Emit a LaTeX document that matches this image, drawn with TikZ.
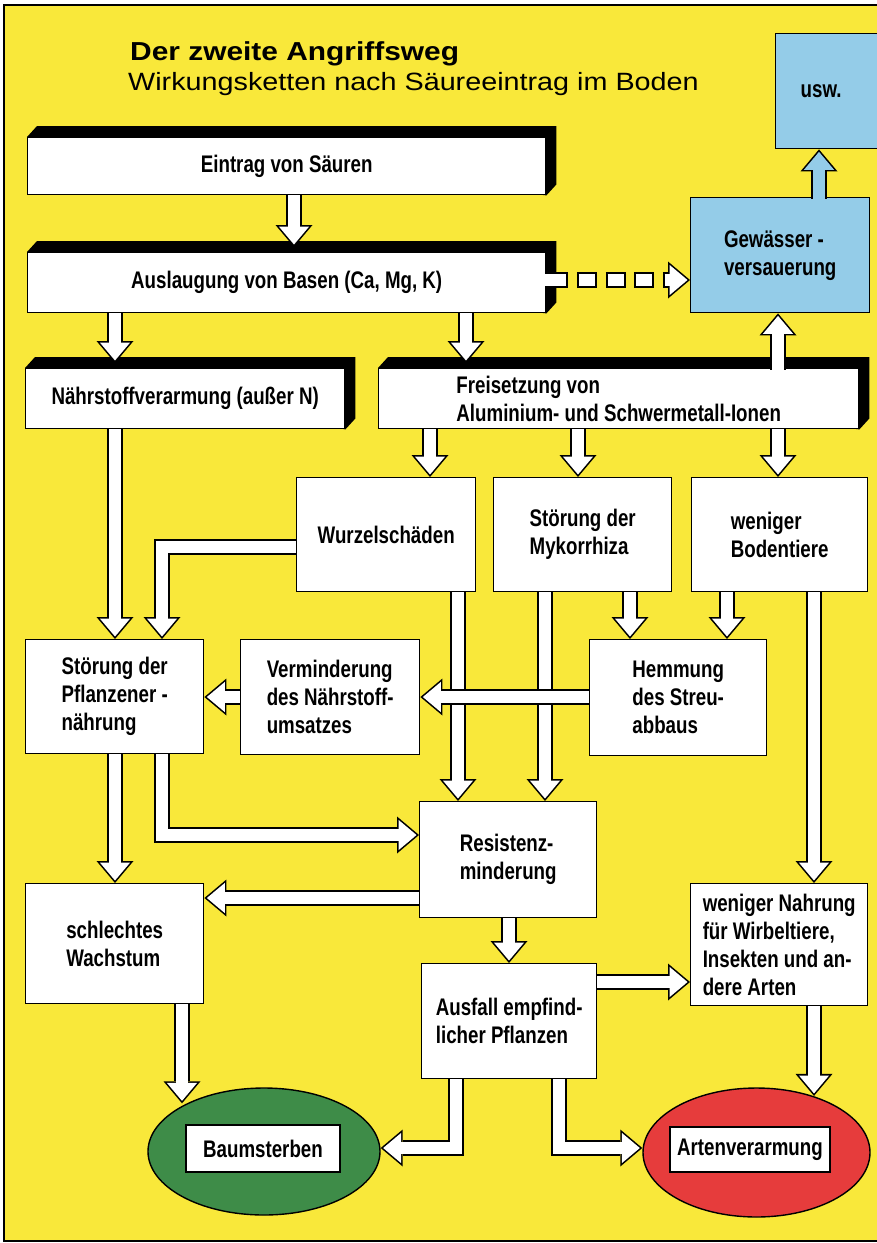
\documentclass[tikz,border=0pt]{standalone}
\usepackage{fontspec}
\newfontfamily\headfont{Liberation Sans}[FakeStretch=1.15]
\newfontfamily\boxfont{Liberation Sans}[FakeStretch=0.78]
\usetikzlibrary{arrows.meta,calc,shapes.geometric}
\pgfdeclarelayer{background}
\pgfsetlayers{background,main}
\definecolor{bgyellow}{RGB}{249,232,58}
\definecolor{skyb}{RGB}{148,204,232}
\definecolor{treegreen}{RGB}{62,140,72}
\definecolor{specred}{RGB}{230,60,60}
\begin{document}
\begin{tikzpicture}[x=1pt, y=-1pt,
    box/.style={draw, line width=1.4pt, fill=white, anchor=north west, inner sep=0pt, align=left,
      font=\boxfont\bfseries\fontsize{24}{28}\selectfont},
    tag/.style={box, anchor=center},
    blob/.style={ellipse, draw, line width=1.4pt, inner sep=0pt},
    fat/.style={line width=16pt, draw=black, -{Triangle[length=22pt, width=37pt, line width=0pt]},
      postaction={draw=#1, line width=12.8pt, shorten >=2.49pt,
        -{Triangle[length=17.9pt, width=30.1pt, line width=0pt]}}},
    fat/.default=white,
    % the dashed one starts 10pt inside its box, the first gap hides that part
    dashfat/.style={line width=16pt, draw=black, -{Triangle[length=22pt, width=37pt, line width=0pt]},
      dash pattern=on 0pt off 10pt on 23pt off 9pt on 20pt off 9pt on 20pt off 8pt on 20pt off 9pt on 80pt off 1pt,
      postaction={draw=white, line width=12.8pt, shorten >=2.49pt,
        dash pattern=on 0pt off 8.5pt on 22.9pt off 12.2pt on 16.8pt off 12.2pt on 16.8pt off 11.2pt on 16.8pt off 12.2pt on 80pt off 1pt,
        -{Triangle[length=17.9pt, width=30.1pt, line width=0pt]}}}]
  \useasboundingbox (0,0) rectangle (877,1243);
  % columns and rows the connectors run along
  \coordinate (cE) at (294,0);
  \coordinate (cA1) at (115,0);
  \coordinate (cA2) at (466,0);
  \coordinate (cF1) at (430,0);
  \coordinate (cF2) at (578,0);
  \coordinate (cF3) at (778,0);
  \coordinate (cW) at (162,0);
  \coordinate (cWR) at (458,0);
  \coordinate (cMR) at (545,0);
  \coordinate (cMH) at (630,0);
  \coordinate (cBH) at (727,0);
  \coordinate (cBN) at (814,0);
  \coordinate (cRA) at (509,0);
  \coordinate (cWB) at (182,0);
  \coordinate (cAB) at (456,0);
  \coordinate (cAA) at (559,0);
  \coordinate (cG) at (819,0);
  \coordinate (rD) at (0,280);
  \coordinate (rWP) at (0,547);
  \coordinate (rH) at (0,697);
  \coordinate (rPR) at (0,835);
  \coordinate (rRW) at (0,898);
  \coordinate (rAN) at (0,982);
  \coordinate (rAE) at (0,1148);

  \node[anchor=base west, inner sep=0pt, font=\headfont\bfseries\fontsize{26}{30}\selectfont] (title) at (130,60) {Der zweite Angriffsweg};
  \node[anchor=base west, inner sep=0pt, font=\headfont\fontsize{25}{30}\selectfont] (subtitle) at (128,90) {Wirkungsketten nach Säureeintrag im Boden};

  \node[box, minimum width=518pt, minimum height=57pt] (eintrag) at (27,137) {Eintrag von Säuren};
  \node[box, minimum width=518pt, minimum height=60pt] (auslaug) at (27,252) {Auslaugung von Basen (Ca, Mg, K)};
  \node[box, minimum width=319pt, minimum height=60pt] (naehr) at (25,368) {Nährstoffverarmung (außer N)};
  \node[box, minimum width=480pt, minimum height=60pt] (frei) at (378,368) {Freisetzung von\\Aluminium- und Schwermetall-Ionen};
  \node[box, minimum width=179pt, minimum height=114pt] (wurzel) at (296,477) {Wurzelschäden};
  \node[box, minimum width=178pt, minimum height=114pt] (mykor) at (493,477) {Störung der\\Mykorrhiza};
  \node[box, minimum width=176pt, minimum height=114pt] (boden) at (691,477) {weniger\\Bodentiere};
  \node[box, minimum width=178pt, minimum height=114pt] (pflanz) at (25,639) {Störung der\\Pflanzener -\\nährung};
  \node[box, minimum width=179pt, minimum height=115pt] (vermind) at (240,639) {Verminderung\\des Nährstoff-\\umsatzes};
  \node[box, minimum width=177pt, minimum height=116pt] (hemm) at (589,639) {Hemmung\\des Streu-\\abbaus};
  \node[box, minimum width=177pt, minimum height=116pt] (resist) at (419,801) {Resistenz-\\minderung};
  \node[box, minimum width=178pt, minimum height=120pt] (wachs) at (25,883) {schlechtes\\Wachstum};
  \node[box, minimum width=175pt, minimum height=115pt] (ausfall) at (421,963) {Ausfall empfind-\\licher Pflanzen};
  \node[box, minimum width=177pt, minimum height=122pt] (nahrung) at (690,883) {weniger Nahrung\\für Wirbeltiere,\\Insekten und an-\\dere Arten};
  \node[box, fill=skyb, minimum width=179pt, minimum height=115pt] (gewaess) at (690,197) {Gewässer -\\versauerung};
  \node[box, fill=skyb, minimum width=130pt, minimum height=115pt, text width=80pt] (usw) at (775,33) {usw.};
  \node[blob, fill=treegreen, minimum width=232pt, minimum height=127pt] (baum) at (264,1151.5) {};
  \node[tag, minimum width=154pt, minimum height=47pt] (baumtxt) at ($(baum)+(-1,-3)$) {Baumsterben};
  \node[blob, fill=specred, minimum width=227pt, minimum height=129pt] (arten) at (756.5,1152.5) {};
  \node[tag, minimum width=160pt, minimum height=45pt] (artentxt) at ($(arten)+(-6.5,-3)$) {Artenverarmung};

  \begin{pgfonlayer}{background}
    \fill[white] (0,0) rectangle (877,1243);
    \draw[fill=bgyellow, line width=1.2pt] (4,5) rectangle (900,1241);
    % black edges of the raised boxes
    \foreach \n in {eintrag,auslaug,naehr,frei}
      \fill (\n.north west) -- ([shift={(10,-11)}]\n.north west) -- ([shift={(10,-11)}]\n.north east)
        -- ([shift={(10,-11)}]\n.south east) -- (\n.south east) -- cycle;
    \draw[fat] (eintrag.south -| cE) -- ($(auslaug.north -| cE)+(0,-5)$);
    \draw[fat] (auslaug.south -| cA1) -- ($(naehr.north -| cA1)+(0,-5)$);
    \draw[fat] (auslaug.south -| cA2) -- ($(frei.north -| cA2)+(0,-5)$);
    \draw[fat] (frei.south -| cF1) -- (wurzel.north -| cF1);
    \draw[fat] (frei.south -| cF2) -- (mykor.north -| cF2);
    \draw[fat] (frei.south -| cF3) -- (boden.north -| cF3);
    \draw[fat] (naehr.south -| cA1) -- (pflanz.north -| cA1);
    \draw[fat] (wurzel.west |- rWP) -| (pflanz.north -| cW);
    \draw[fat] (wurzel.south -| cWR) -- (resist.north -| cWR);
    \draw[fat] (mykor.south -| cMR) -- (resist.north -| cMR);
    \draw[fat] (mykor.south -| cMH) -- (hemm.north -| cMH);
    \draw[fat] (boden.south -| cBH) -- (hemm.north -| cBH);
    \draw[fat] (boden.south -| cBN) -- (nahrung.north -| cBN);
    % drawn after the two verticals, so it runs over them
    \draw[fat] (hemm.west |- rH) -- (vermind.east |- rH);
    \draw[fat] (vermind.west |- rH) -- (pflanz.east |- rH);
    \draw[fat] (pflanz.south -| cA1) -- (wachs.north -| cA1);
    \draw[fat] (pflanz.south -| cW) |- (resist.west |- rPR);
    \draw[fat] (resist.west |- rRW) -- (wachs.east |- rRW);
    \draw[fat] (resist.south -| cRA) -- (ausfall.north -| cRA);
    \draw[fat] (ausfall.east |- rAN) -- (nahrung.west |- rAN);
    \draw[fat] (wachs.south -| cWB) -- (baum.148 -| cWB);
    \draw[fat] (ausfall.south -| cAB) |- (baum.east |- rAE);
    \draw[fat] (ausfall.south -| cAA) |- (arten.west |- rAE);
    \draw[fat] (nahrung.south -| cBN) -- (arten.45 -| cBN);
  \end{pgfonlayer}

  % these leave their box through its edge
  \draw[fat] ($(frei.north -| cF3)+(0,1.5)$) -- (gewaess.south -| cF3);
  \draw[fat=skyb] ($(gewaess.north -| cG)+(0,1.5)$) -- (usw.south -| cG);
  \draw[dashfat] ($(auslaug.east |- rD)+(-11.5,0)$) -- (gewaess.west |- rD);
\end{tikzpicture}
\end{document}
